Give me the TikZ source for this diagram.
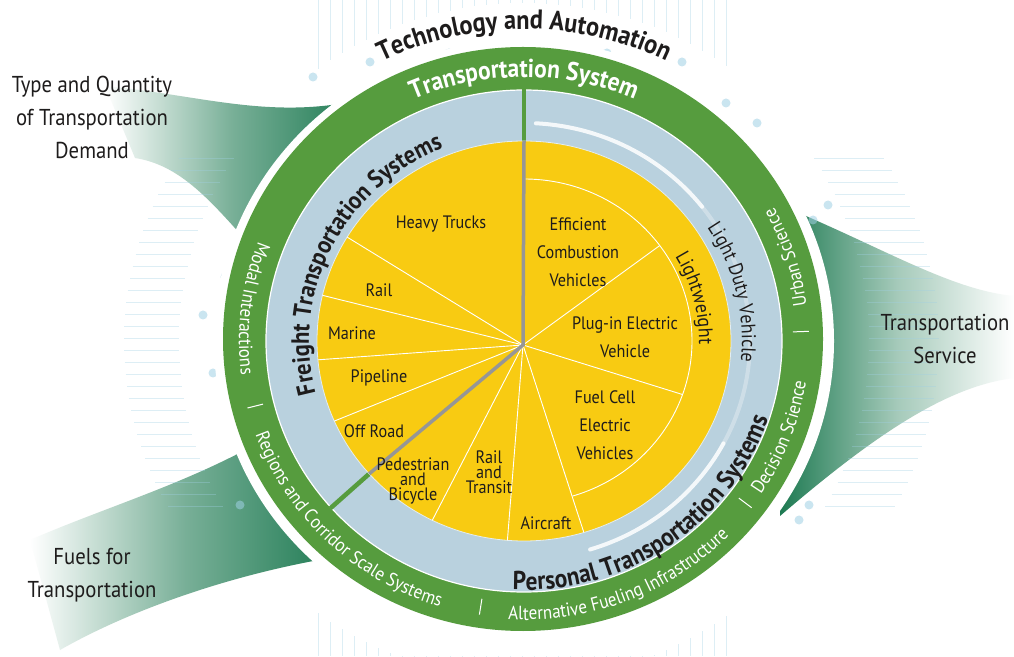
\documentclass[tikz,border=0pt]{standalone}
\usepackage{fontspec}
\setmainfont{PT Sans}[FakeStretch=0.9]
\usetikzlibrary{calc,decorations.text}

\definecolor{ringgreen}{RGB}{86,156,62}
\definecolor{ringblue}{RGB}{185,209,222}
\definecolor{sectoryellow}{RGB}{248,203,18}
\definecolor{swooshgreen}{RGB}{30,122,82}
\definecolor{circuitblue}{RGB}{160,208,228}
\definecolor{gapgray}{RGB}{150,150,150}
\definecolor{inkblack}{RGB}{30,28,28}

\tikzset{
  slice/.style={font=\fontsize{18}{28}\selectfont, align=center, text=inkblack, inner sep=0pt},
  tightslice/.style={font=\fontsize{18}{15}\selectfont, align=center, text=inkblack, inner sep=0pt},
  sidelabel/.style={font=\fontsize{23}{33}\selectfont, align=center, text=inkblack, inner sep=0pt},
  spoke/.style={white, line width=0.9pt},
  ringtick/.style={white, line width=1pt},
  trace/.style={circuitblue, line width=0.6pt, opacity=0.35},
  pad/.style={circuitblue, opacity=0.55},
  shine/.style={white, line width=4pt, line cap=round},
}

% text set along an arc round (C)
\newcommand{\arclabel}[7]{%
  \path[decorate, decoration={text along path, text align=center, text color=#2,
    text={|#1|#7}}]
    ($(C)+(#5:#3 and #4)$) arc[start angle=#5, end angle=#6, x radius=#3, y radius=#4];}

\begin{document}
\begin{tikzpicture}[x=1pt,y=1pt]
\useasboundingbox (0,0) rectangle (1014,656);
\fill[white] (0,0) rectangle (1014,656);
\coordinate (C) at (524,315);
\coordinate (H) at (523,311);

% swooshes
\shade[left color=white, right color=swooshgreen, middle color=swooshgreen!60]
  (105,570) .. controls (200,561) and (270,536) .. (360,556) -- (360,396) -- (250,411)
  .. controls (210,456) and (180,491) .. (135,498) -- cycle;
\shade[left color=white, right color=swooshgreen, middle color=swooshgreen!60]
  (30,116) .. controls (110,151) and (200,176) .. (280,226) -- (340,136) -- (330,98)
  .. controls (230,81) and (130,46) .. (60,6) -- cycle;
\shade[left color=swooshgreen, right color=white, middle color=swooshgreen!40]
  (780,451) .. controls (880,410) and (950,366) .. (1014,360) -- (1014,278)
  .. controls (950,270) and (880,226) .. (780,140) -- cycle;

% circuit traces
\foreach \x in {318,330,...,730}{
  \pgfmathsetmacro{\yend}{315+338*sqrt(max(0,1-((\x-524)/348)^2))}
  \draw[trace] (\x,656) -- (\x,\yend);
  \pgfmathsetmacro{\ylow}{315-338*sqrt(max(0,1-((\x-524)/348)^2))}
  \draw[trace] (\x,0) -- (\x,\ylow);
}
\foreach \y in {150,162,...,500}{
  \pgfmathsetmacro{\xl}{524-345*sqrt(max(0,1-((\y-315)/338)^2))}
  \draw[trace] ({\xl-55},\y) -- (\xl,\y);
  \pgfmathsetmacro{\xr}{524+345*sqrt(max(0,1-((\y-315)/338)^2))}
  \draw[trace] (\xr,\y) -- ({\xr+70},\y);
}
\foreach \p in {(370,594),(313,579),(449,603),(607,603),(682,594),(726,553),(757,533),
  (813,436),(828,451),(225,379),(203,341),(213,283),(240,151),(809,151),(799,136)}
  \fill[pad] \p circle (4.5);

% halo and rings
\fill[white] (C) ellipse[x radius=310, y radius=301];
\fill[ringgreen] ($(C)+(-1,2)$) ellipse[x radius=300, y radius=292];
\filldraw[fill=ringblue, draw=white, line width=1.2pt] (C) ellipse[x radius=258, y radius=251];
\draw[shine, opacity=0.85]
  ($(C)+(87:226 and 218)$) arc[start angle=87, end angle=38, x radius=226, y radius=218];
\draw[shine, opacity=0.3]
  ($(C)+(38:226 and 218)$) arc[start angle=38, end angle=-28, x radius=226, y radius=218];
\draw[shine, opacity=0.85]
  ($(C)+(-28:226 and 218)$) arc[start angle=-28, end angle=-73, x radius=226, y radius=218];
\draw[ringgreen, line width=4.5pt] ($(C)+(90:200 and 193)$) -- ($(C)+(90:259 and 252)$);
\draw[ringgreen, line width=4.5pt] ($(C)+(221.6:200 and 193)$) -- ($(C)+(221.6:259 and 252)$);

% yellow sectors
\filldraw[fill=sectoryellow, draw=white!60!ringblue, line width=0.8pt]
  (C) ellipse[x radius=207, y radius=200];
\foreach \a in {148.7,166.8,185.4,203.6,243.7,265.4,286.8}
  \draw[spoke] (H) -- ($(C)+(\a:207 and 200)$);
\foreach \a in {340.7,36.1}
  \draw[spoke] (H) -- ($(C)+(\a:168 and 162)$);
\draw[spoke] ($(C)+(90:168 and 162)$) arc[start angle=90, end angle=-73.2, x radius=168, y radius=162];
\draw[gapgray, line width=3.5pt] ($(C)+(90:207 and 200)$) -- (H) -- ($(C)+(221.6:207 and 200)$);

% slice labels
\node[slice] (heavy) at (441,432) {Heavy Trucks};
\node[slice] (railf) at (379,366) {Rail};
\node[slice] (marine) at (352,323) {Marine};
\node[slice] (pipeline) at (379,278) {Pipeline};
\node[slice] (offroad) at (374,225) {Off Road};
\node[tightslice] (pedestrian) at (413,175) {Pedestrian\\and\\Bicycle};
\node[tightslice] (transit) at (489,184) {Rail\\and\\Transit};
\node[slice] (aircraft) at (546,133) {Aircraft};
\node[slice] (fuelcell) at (605,231) {Fuel Cell\\Electric\\Vehicles};
\node[slice] (plugin) at (625,319) {Plug-in Electric\\Vehicle};
\node[slice] (efficient) at (578,404) {Efficient\\Combustion\\Vehicles};

% ring labels
\arclabel{\bfseries\fontsize{27}{27}\selectfont}{inkblack}{320}{312}{135}{45}{Technology and Automation}
\arclabel{\bfseries\fontsize{26}{26}\selectfont}{white}{274}{264}{130}{50}{Transportation System}
\arclabel{\bfseries\fontsize{25}{25}\selectfont}{inkblack}{215}{208}{213}{94}{Freight Transportation Systems}
\arclabel{\bfseries\fontsize{26}{26}\selectfont}{inkblack}{257}{249}{243}{367}{Personal Transportation Systems}
\arclabel{\fontsize{20}{20}\selectfont}{inkblack}{218}{210}{43}{-16}{Light Duty Vehicle}
\arclabel{\fontsize{20}{20}\selectfont}{inkblack}{175}{168}{44}{-15}{Lightweight}
\arclabel{\fontsize{19}{19}\selectfont}{white}{285}{276}{143}{203}{Modal Interactions}
\arclabel{\fontsize{19}{19}\selectfont}{white}{285}{278}{181}{271}{Regions and Corridor Scale Systems}
\arclabel{\fontsize{19}{19}\selectfont}{white}{286}{279}{246}{337}{Alternative Fueling Infrastructure}
\arclabel{\fontsize{19}{19}\selectfont}{white}{285}{277}{309}{369}{Decision Science}
\arclabel{\fontsize{19}{19}\selectfont}{white}{285}{277}{-12}{48}{Urban Science}
\foreach \a in {194,261,323,2}
  \draw[ringtick] ($(C)+(\a:269 and 261)$) -- ($(C)+(\a:285 and 277)$);

% outer labels
\node[sidelabel] (demand) at (92,539) {Type and Quantity\\of Transportation\\Demand};
\node[sidelabel] (service) at (945,317) {Transportation\\Service};
\node[sidelabel] (fuels) at (92,81) {Fuels for\\Transportation};
\end{tikzpicture}
\end{document}
